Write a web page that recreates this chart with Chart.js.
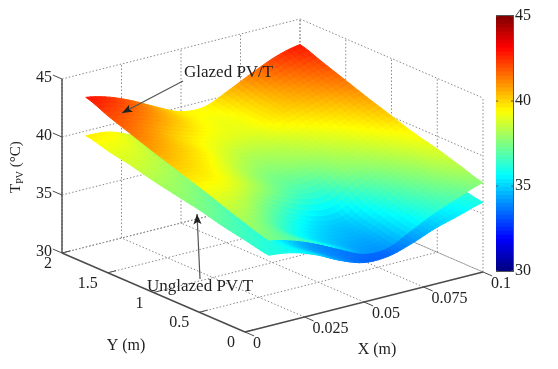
<!DOCTYPE html>
<html>
<head>
<meta charset="utf-8">
<style>
  html, body { margin: 0; padding: 0; background: #fff; }
  #wrap { position: relative; width: 558px; height: 369px; overflow: hidden; }
  canvas { position: absolute; top: 0; filter: blur(0.5px); }
  #surface { left: 0; }
  #colorbar { left: 496px; }
</style>
<script src="https://cdn.jsdelivr.net/npm/chart.js@4"></script>
</head>
<body>
<div id="wrap">
  <canvas id="surface" width="558" height="369"></canvas>
  <canvas id="colorbar" width="62" height="369"></canvas>
</div>
<script>
// surface grid
const xGrid = [0.01, 0.02, 0.03, 0.04, 0.05, 0.06, 0.07, 0.08, 0.09, 0.1];
const yGrid = [0, 0.25, 0.5, 0.75, 1, 1.25, 1.5, 1.75, 2];

// one row per yGrid entry, one value per xGrid entry (deg C)
const glazedT = [
  [37.4, 36.9, 36.1, 35.1, 34.2, 34.2, 35.2, 36.2, 37.0, 37.7],
  [38.0, 37.2, 36.0, 35.1, 34.6, 34.6, 35.6, 36.7, 37.6, 38.3],
  [38.7, 38.2, 37.1, 36.0, 35.2, 35.1, 36.3, 37.3, 38.1, 38.9],
  [39.4, 39.2, 38.4, 37.5, 36.7, 36.5, 37.5, 38.0, 38.7, 39.4],
  [40.05, 39.7, 39.0, 38.1, 37.5, 37.7, 38.1, 38.7, 39.4, 40.05],
  [40.7, 40.2, 39.6, 38.8, 38.2, 38.3, 38.8, 39.4, 40.0, 40.7],
  [41.4, 40.8, 40.0, 39.4, 39.0, 39.0, 39.65, 40.2, 40.8, 41.4],
  [42.1, 41.6, 40.9, 40.1, 39.4, 39.2, 39.9, 40.8, 41.5, 42.1],
  [42.9, 42.4, 41.55, 40.5, 39.6, 39.5, 40.4, 41.4, 42.3, 42.8]
];
const unglazedT = [
  [36.1, 35.8, 35.1, 34.1, 33.4, 33.4, 34.0, 34.8, 35.4, 36.0],
  [36.5, 36.0, 35.0, 34.1, 33.7, 33.7, 34.4, 35.2, 35.9, 36.4],
  [36.9, 36.4, 35.5, 34.6, 34.1, 34.1, 35.0, 35.8, 36.3, 36.8],
  [37.4, 36.9, 36.1, 35.3, 34.8, 34.8, 35.5, 36.2, 36.7, 37.2],
  [37.8, 37.4, 36.7, 36.0, 35.5, 35.5, 36.0, 36.6, 37.1, 37.6],
  [38.2, 37.9, 37.3, 36.6, 36.1, 36.1, 36.5, 37.1, 37.6, 38.0],
  [38.7, 38.4, 37.8, 37.2, 36.7, 36.7, 37.1, 37.6, 38.1, 38.4],
  [39.1, 38.9, 38.2, 37.6, 37.1, 37.0, 37.5, 38.1, 38.5, 38.8],
  [39.6, 39.4, 38.6, 37.9, 37.4, 37.3, 37.9, 38.5, 38.9, 39.2]
];

const xTicks = [0, 0.025, 0.05, 0.075, 0.1];
const xTickLabels = ["0", "0.025", "0.05", "0.075", "0.1"];
const yTicks = [0, 0.5, 1, 1.5, 2];
const yTickLabels = ["0", "0.5", "1", "1.5", "2"];
const zTicks = [30, 35, 40, 45];
const zTickLabels = ["30", "35", "40", "45"];

const SERIF = '"Liberation Serif", "Times New Roman", serif';
const TEXT = "#222";
const GRID = "#8a8a8a";
const AXIS = "#4a4a4a";

// oblique view of the box, output is in the units of the chart's x/y scales
function project(x, y, z) {
  return {
    x: 245 + 2380 * x - 91.5 * y,
    y: 332 - 600 * x - 39.5 * y - 11.6 * (z - 30)
  };
}

function clamp01(v) {
  return Math.max(0, Math.min(1, v));
}

function jet(t) {
  const r = clamp01(Math.min(4 * t - 1.5, -4 * t + 4.5));
  const g = clamp01(Math.min(4 * t - 0.5, -4 * t + 3.5));
  const b = clamp01(Math.min(4 * t + 0.5, -4 * t + 2.5));
  return `rgb(${Math.round(r * 255)},${Math.round(g * 255)},${Math.round(b * 255)})`;
}

function catmull(a, b, c, d, t) {
  return 0.5 * (2 * b + (c - a) * t + (2 * a - 5 * b + 4 * c - d) * t * t + (3 * b - a - 3 * c + d) * t * t * t);
}

// interp shading: value inside a grid cell, only used to paint the facets
function sampleT(grid, row, col, u, v) {
  const rows = [];
  for (let r = row - 1; r <= row + 2; r++) {
    const line = grid[Math.max(0, Math.min(grid.length - 1, r))];
    const at = (c) => line[Math.max(0, Math.min(line.length - 1, c))];
    rows.push(catmull(at(col - 1), at(col), at(col + 1), at(col + 2), u));
  }
  return catmull(rows[0], rows[1], rows[2], rows[3], v);
}

function surfaceFacets(grid) {
  const facets = [];
  const sub = 5;
  const dx = xGrid[1] - xGrid[0];
  const dy = yGrid[1] - yGrid[0];
  // far corner first so nearer facets paint over it
  for (let row = yGrid.length - 2; row >= 0; row--) {
    for (let sv = sub - 1; sv >= 0; sv--) {
      for (let col = xGrid.length - 2; col >= 0; col--) {
        for (let su = sub - 1; su >= 0; su--) {
          const u0 = su / sub, u1 = (su + 1) / sub, v0 = sv / sub, v1 = (sv + 1) / sub;
          const corner = (u, v) => project(xGrid[col] + u * dx, yGrid[row] + v * dy, sampleT(grid, row, col, u, v));
          const color = jet((sampleT(grid, row, col, (u0 + u1) / 2, (v0 + v1) / 2) - 30) / 15);
          const a = corner(u0, v0);
          facets.push({
            data: [a, corner(u1, v0), corner(u1, v1), corner(u0, v1), a],
            borderColor: color,
            backgroundColor: color,
            borderWidth: 1,
            fill: "shape",
            pointRadius: 0
          });
        }
      }
    }
  }
  return facets;
}

function segment(a, b, color, width, dash) {
  return {
    data: [project(a[0], a[1], a[2]), project(b[0], b[1], b[2])],
    borderColor: color,
    borderWidth: width,
    borderDash: dash || [],
    fill: false,
    pointRadius: 0
  };
}

function boxLines() {
  const lines = [];
  const dots = [1.5, 2];
  const xMax = xTicks[xTicks.length - 1], yMax = yTicks[yTicks.length - 1];
  const zMin = zTicks[0], zMax = zTicks[zTicks.length - 1];
  xTicks.forEach((x) => {
    if (x > 0) lines.push(segment([x, 0, zMin], [x, yMax, zMin], GRID, 1, dots));
    lines.push(segment([x, yMax, zMin], [x, yMax, zMax], GRID, 1, dots));
  });
  yTicks.forEach((y) => {
    if (y > 0) lines.push(segment([0, y, zMin], [xMax, y, zMin], GRID, 1, dots));
    lines.push(segment([xMax, y, zMin], [xMax, y, zMax], GRID, 1, dots));
  });
  zTicks.forEach((z) => {
    lines.push(segment([0, yMax, z], [xMax, yMax, z], GRID, 1, dots));
    lines.push(segment([xMax, yMax, z], [xMax, 0, z], GRID, 1, dots));
  });
  return lines;
}

function axisLines() {
  const lines = [];
  const xMax = xTicks[xTicks.length - 1], yMax = yTicks[yTicks.length - 1];
  const zMin = zTicks[0], zMax = zTicks[zTicks.length - 1];
  lines.push(segment([0, 0, zMin], [xMax, 0, zMin], AXIS, 1.4));
  lines.push(segment([0, 0, zMin], [0, yMax, zMin], AXIS, 1.4));
  lines.push(segment([0, yMax, zMin], [0, yMax, zMax], AXIS, 1.4));
  xTicks.forEach((x) => lines.push(segment([x, 0, zMin], [x, -0.1, zMin], AXIS, 1)));
  yTicks.forEach((y) => lines.push(segment([0, y, zMin], [0.0035, y, zMin], AXIS, 1)));
  zTicks.forEach((z) => lines.push(segment([0, yMax, z], [0, yMax + 0.1, z], AXIS, 1)));
  return lines;
}

const annotations = {
  id: "annotations",
  afterDatasetsDraw(chart) {
    const ctx = chart.ctx;
    const sx = chart.scales.x, sy = chart.scales.y;
    const px = (p) => ({ x: sx.getPixelForValue(p.x), y: sy.getPixelForValue(p.y) });

    ctx.save();
    ctx.fillStyle = TEXT;
    ctx.textBaseline = "middle";

    ctx.font = `16px ${SERIF}`;
    ctx.textAlign = "left";
    xTicks.forEach((x, i) => {
      const p = px(project(x, 0, zTicks[0]));
      ctx.fillText(xTickLabels[i], p.x + 8, p.y + 12);
    });
    ctx.textAlign = "right";
    yTicks.forEach((y, i) => {
      const p = px(project(0, y, zTicks[0]));
      ctx.fillText(yTickLabels[i], p.x - 10, p.y + 11);
    });
    zTicks.forEach((z, i) => {
      const p = px(project(0, yTicks[yTicks.length - 1], z));
      ctx.fillText(zTickLabels[i], p.x - 10, p.y - 1);
    });

    ctx.textAlign = "center";
    ctx.fillText("Y (m)", 126, 346);
    ctx.fillText("X (m)", 377, 350);

    // rotated T_PV (degC) title
    ctx.save();
    ctx.translate(20, 193);
    ctx.rotate(-Math.PI / 2);
    ctx.textAlign = "left";
    ctx.textBaseline = "alphabetic";
    ctx.font = `15px ${SERIF}`;
    ctx.fillText("T", 0, 0);
    let w = ctx.measureText("T").width;
    ctx.font = `10px ${SERIF}`;
    ctx.fillText("PV", w, 3);
    w += ctx.measureText("PV").width;
    ctx.font = `15px ${SERIF}`;
    ctx.fillText(" (\u00B0C)", w, 0);
    ctx.restore();

    ctx.font = `17px ${SERIF}`;
    ctx.textAlign = "left";
    ctx.fillText("Glazed PV/T", 184, 73);
    ctx.fillText("Unglazed PV/T", 147, 287);

    arrow(ctx, 183, 81, 122, 113);
    arrow(ctx, 200, 279, 197, 214);
    ctx.restore();
  }
};

function arrow(ctx, x0, y0, x1, y1) {
  const angle = Math.atan2(y1 - y0, x1 - x0);
  ctx.strokeStyle = "#555";
  ctx.lineWidth = 1.2;
  ctx.beginPath();
  ctx.moveTo(x0, y0);
  ctx.lineTo(x1, y1);
  ctx.stroke();
  ctx.fillStyle = "#222";
  ctx.beginPath();
  ctx.moveTo(x1, y1);
  ctx.lineTo(x1 - 11 * Math.cos(angle - 0.38), y1 - 11 * Math.sin(angle - 0.38));
  ctx.lineTo(x1 - 8 * Math.cos(angle), y1 - 8 * Math.sin(angle));
  ctx.lineTo(x1 - 11 * Math.cos(angle + 0.38), y1 - 11 * Math.sin(angle + 0.38));
  ctx.closePath();
  ctx.fill();
}

// back to front, Chart.js paints the first dataset last
const datasets = [
  ...boxLines(),
  ...surfaceFacets(unglazedT),
  ...surfaceFacets(glazedT),
  ...axisLines()
].reverse();

new Chart(document.getElementById("surface"), {
  type: "line",
  data: { datasets },
  options: {
    responsive: false,
    animation: false,
    events: [],
    layout: { padding: 0 },
    plugins: { legend: { display: false }, tooltip: { enabled: false } },
    elements: { line: { tension: 0 } },
    scales: {
      x: { type: "linear", display: false, min: 0, max: 558 },
      y: { type: "linear", display: false, min: 0, max: 369, reverse: true }
    }
  },
  plugins: [annotations]
});

// colorbar: 64 levels of the same colormap on its own axis
const barLevels = [];
for (let i = 0; i < 64; i++) barLevels.push(i);

const barFrame = {
  id: "barFrame",
  afterDatasetsDraw(chart) {
    const a = chart.chartArea;
    const ctx = chart.ctx;
    ctx.save();
    ctx.strokeStyle = "#555";
    ctx.lineWidth = 1;
    ctx.strokeRect(a.left - 0.5, a.top - 0.5, a.width + 1, a.height + 1);
    // short inward ticks
    zTicks.forEach((z) => {
      const y = chart.scales.y.getPixelForValue(z);
      ctx.beginPath();
      ctx.moveTo(a.left, y);
      ctx.lineTo(a.left + 2, y);
      ctx.moveTo(a.right - 2, y);
      ctx.lineTo(a.right, y);
      ctx.stroke();
    });
    ctx.restore();
  }
};

new Chart(document.getElementById("colorbar"), {
  type: "bar",
  data: {
    labels: [""],
    datasets: barLevels.map((i) => ({
      data: [[30 + (i * 15) / 64, 30 + ((i + 1) * 15) / 64]],
      backgroundColor: jet((i + 0.5) / 64),
      borderWidth: 0,
      grouped: false,
      barPercentage: 1,
      categoryPercentage: 1
    }))
  },
  options: {
    responsive: false,
    animation: false,
    events: [],
    layout: { padding: { top: 16, bottom: 98, left: 0, right: 0 } },
    plugins: { legend: { display: false }, tooltip: { enabled: false } },
    scales: {
      x: { display: false },
      y: {
        position: "right",
        min: 30,
        max: 45,
        afterFit(scale) { scale.width = 45; },
        border: { display: false },
        grid: { drawOnChartArea: false, drawTicks: false },
        ticks: {
          stepSize: 5,
          padding: 2,
          color: TEXT,
          font: { family: SERIF, size: 16 }
        }
      }
    }
  },
  plugins: [barFrame]
});
</script>
</body>
</html>
